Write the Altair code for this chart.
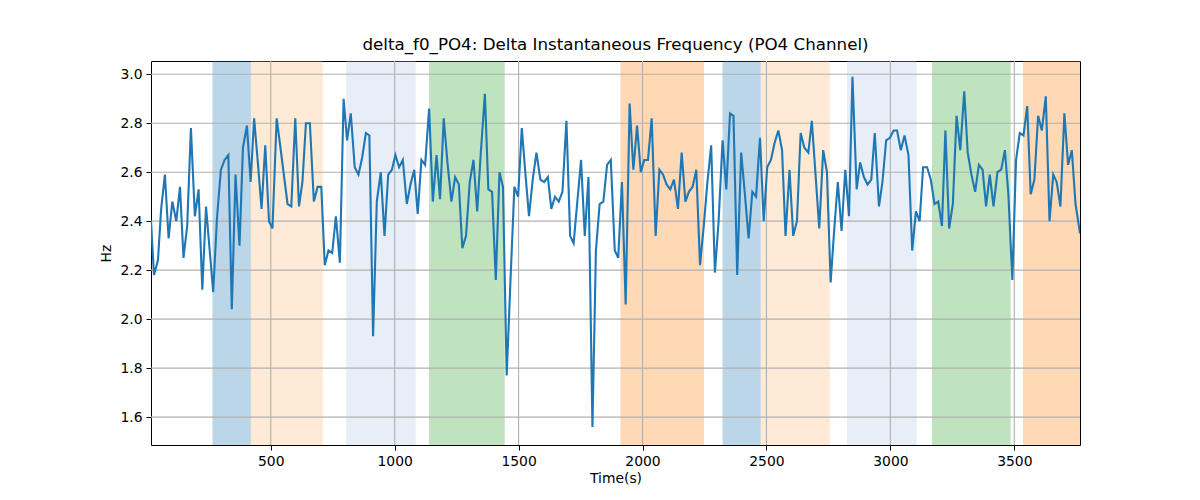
import altair as alt
import pandas as pd

# values
times = [
    17, 29, 45, 58, 73, 88, 103, 119, 134, 148, 163, 178, 194, 209, 224, 239, 253, 268,
    283, 299, 314, 329, 343, 358, 374, 388, 404, 419, 433, 448, 463, 478, 493, 507,
    524, 538, 553, 568, 583, 599, 614, 628,
    642, 658, 674, 689, 704, 718, 733, 748, 763, 779, 794, 808, 823, 839, 854, 869,
    884, 898, 913, 928, 944, 959, 974, 989, 1003, 1018, 1033, 1049, 1064, 1079, 1093,
    1108, 1123, 1139, 1154, 1169, 1183, 1198, 1213, 1229, 1244,
    1259, 1273, 1288, 1303, 1318, 1333, 1347, 1364, 1378, 1393, 1408, 1423, 1437, 1452,
    1467, 1483, 1498, 1513, 1527, 1542, 1557, 1572, 1588, 1603, 1618, 1632, 1647, 1662,
    1677, 1693, 1708, 1722, 1737, 1752, 1767, 1782, 1798, 1812, 1827, 1842, 1857, 1872,
    1888, 1902, 1917, 1932, 1948, 1963, 1978, 1993, 2007, 2022, 2037, 2053, 2068, 2083,
    2097, 2112, 2127, 2143, 2158, 2173, 2187, 2202, 2217, 2232, 2247, 2261, 2277, 2292,
    2307, 2323, 2338, 2353, 2367, 2382, 2398, 2413, 2428, 2443, 2458, 2474, 2489, 2503,
    2518, 2533, 2548, 2563, 2577, 2593, 2608, 2623, 2638, 2653, 2669, 2683, 2698, 2713,
    2729, 2744, 2759, 2773, 2788, 2803, 2818, 2833, 2847, 2864, 2878, 2893, 2908, 2923,
    2937, 2954, 2968, 2983, 2998, 3013, 3027, 3042, 3057, 3073, 3088, 3103, 3118, 3132,
    3148, 3163, 3178, 3193, 3208, 3222, 3237, 3252, 3267, 3282, 3298, 3312, 3327, 3342,
    3357, 3372, 3386, 3401, 3416, 3432, 3447, 3462, 3476, 3492, 3507, 3522, 3537, 3552,
    3566, 3581, 3596, 3611, 3627, 3642, 3657, 3671, 3686, 3702, 3717, 3732, 3747, 3765,
]
hz = [
    2.40, 2.18, 2.24, 2.45, 2.59, 2.33, 2.48, 2.40, 2.54, 2.25, 2.38, 2.78, 2.42, 2.53, 2.12, 2.46, 2.29, 2.11,
    2.41, 2.61, 2.65, 2.67, 2.04, 2.59, 2.30, 2.70, 2.79, 2.56, 2.82, 2.64, 2.45, 2.71, 2.40, 2.37,
    2.82, 2.71, 2.59, 2.47, 2.46, 2.82, 2.46, 2.56,
    2.80, 2.80, 2.48, 2.54, 2.54, 2.22, 2.28, 2.27, 2.42, 2.23, 2.90, 2.73, 2.84, 2.62, 2.59, 2.66,
    2.76, 2.75, 1.93, 2.48, 2.60, 2.34, 2.59, 2.61, 2.67, 2.62, 2.65, 2.47, 2.55, 2.61, 2.43,
    2.65, 2.63, 2.86, 2.48, 2.67, 2.49, 2.82, 2.64, 2.48, 2.58,
    2.55, 2.29, 2.34, 2.56, 2.65, 2.44, 2.67, 2.92, 2.53, 2.52, 2.16, 2.60, 2.54, 1.77,
    2.15, 2.54, 2.50, 2.78, 2.60, 2.42, 2.57, 2.68, 2.57, 2.56, 2.58, 2.45, 2.50, 2.48,
    2.52, 2.81, 2.34, 2.31, 2.48, 2.65, 2.34, 2.58, 1.56, 2.28, 2.47, 2.48, 2.63, 2.65,
    2.28, 2.25, 2.56, 2.06, 2.88, 2.61, 2.79, 2.60, 2.65, 2.65, 2.82, 2.34, 2.61, 2.59,
    2.55, 2.53, 2.57, 2.45, 2.68, 2.48, 2.52, 2.54, 2.61, 2.22, 2.38, 2.55, 2.71, 2.19,
    2.40, 2.73, 2.53, 2.84, 2.83, 2.18, 2.68, 2.51, 2.33, 2.52, 2.50, 2.74, 2.40, 2.62,
    2.65, 2.72, 2.77, 2.69, 2.34, 2.61, 2.34, 2.40, 2.76, 2.70, 2.68, 2.81, 2.59, 2.37,
    2.69, 2.60, 2.15, 2.36, 2.56, 2.36, 2.61, 2.42, 2.99, 2.53, 2.64, 2.58, 2.55, 2.57,
    2.76, 2.46, 2.56, 2.73, 2.74, 2.77, 2.77, 2.69, 2.75, 2.67, 2.28, 2.44, 2.40, 2.62,
    2.62, 2.57, 2.47, 2.48, 2.38, 2.77, 2.37, 2.47, 2.83, 2.69, 2.93, 2.68, 2.59, 2.52,
    2.63, 2.61, 2.46, 2.59, 2.46, 2.60, 2.61, 2.69, 2.51, 2.16, 2.65, 2.76, 2.75, 2.87,
    2.51, 2.57, 2.83, 2.77, 2.91, 2.40, 2.59, 2.56, 2.46, 2.84, 2.63, 2.69, 2.47, 2.35,
]

band_start = [265, 420, 804, 1139, 1911, 2323, 2477, 2825, 3168, 3535]
band_end = [420, 710, 1085, 1444, 2248, 2477, 2756, 3106, 3485, 3765]
band_color = ["#1f77b4", "#ffbb78", "#aec7e8", "#2ca02c", "#ff7f0e"] * 2

x_ticks = [500, 1000, 1500, 2000, 2500, 3000, 3500]
y_ticks = [1.6, 1.8, 2.0, 2.2, 2.4, 2.6, 2.8, 3.0]

X_MIN, X_MAX = 17, 3765
Y_MIN, Y_MAX = 1.486, 3.054
FONT = "DejaVu Sans"

df = pd.DataFrame({"t": times, "hz": hz})
df_bands = pd.DataFrame({"start": band_start, "end": band_end, "color": band_color})
df_xg = pd.DataFrame({"v": x_ticks})
df_yg = pd.DataFrame({"v": y_ticks})

x_scale = alt.Scale(domain=[X_MIN, X_MAX], nice=False, zero=False)
y_scale = alt.Scale(domain=[Y_MIN, Y_MAX], nice=False, zero=False)

axis_style = dict(
    grid=False,
    domain=False,
    tickColor="black",
    tickSize=5,
    tickWidth=1,
    labelFont=FONT,
    labelFontSize=13.9,
    labelColor="black",
    labelPadding=4,
    titleFont=FONT,
    titleFontSize=13.9,
    titleFontWeight="normal",
    titleColor="black",
)
x_axis = alt.Axis(values=x_ticks, format="d", title="Time(s)", titlePadding=4, **axis_style)
y_axis = alt.Axis(values=y_ticks, format=".1f", title="Hz", titlePadding=6, **axis_style)

# shaded spans, full height (no y channel)
bands = alt.Chart(df_bands).mark_rect(opacity=0.3, clip=True).encode(
    x=alt.X("start:Q", scale=x_scale, axis=x_axis),
    x2="end:Q",
    color=alt.Color("color:N", scale=None),
)

# grid drawn above the spans, below the line (as in the reference)
x_grid = alt.Chart(df_xg).mark_rule(color="#b0b0b0", strokeWidth=1.1).encode(
    x=alt.X("v:Q", scale=x_scale, axis=x_axis),
)
y_grid = alt.Chart(df_yg).mark_rule(color="#b0b0b0", strokeWidth=1.1).encode(
    y=alt.Y("v:Q", scale=y_scale, axis=y_axis),
)

line = alt.Chart(df).mark_line(color="#1f77b4", strokeWidth=2.1, clip=True).encode(
    x=alt.X("t:Q", scale=x_scale, axis=x_axis),
    y=alt.Y("hz:Q", scale=y_scale, axis=y_axis),
)

chart = (
    alt.layer(bands, x_grid, y_grid, line)
    .properties(
        width=929,
        height=384,
        title=alt.Title(
            "delta_f0_PO4: Delta Instantaneous Frequency (PO4 Channel)",
            font=FONT,
            fontSize=16.7,
            fontWeight="normal",
            color="black",
            offset=7,
        ),
        autosize=alt.AutoSizeParams(type="none"),
        padding={"left": 143, "top": 53, "right": 100, "bottom": 47},
    )
    .configure_view(stroke="black", strokeWidth=1)
)

chart.save("out.html", embed_options={"renderer": "svg", "actions": False})
